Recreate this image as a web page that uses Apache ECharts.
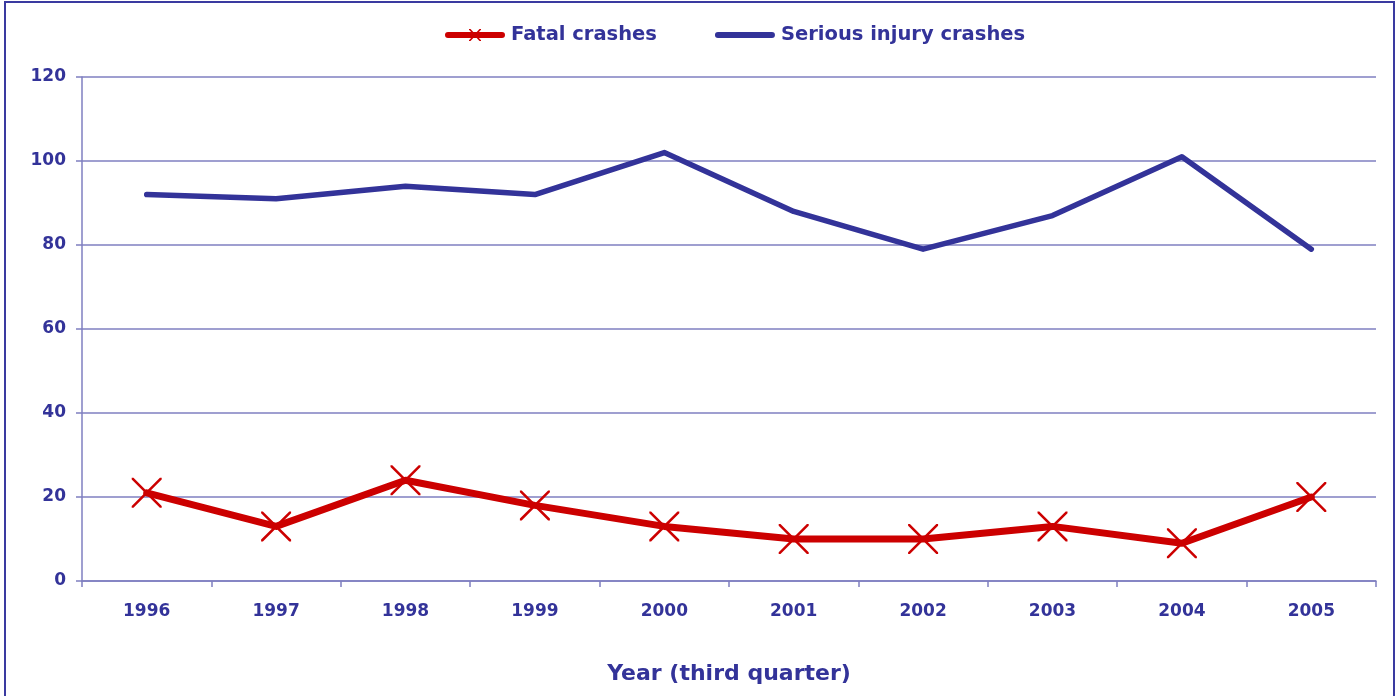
<!DOCTYPE html>
<html>
<head>
<meta charset="utf-8">
<script src="https://cdn.jsdelivr.net/npm/echarts@6/dist/echarts.min.js"></script>
<style>
html,body{margin:0;padding:0;background:#fff;}
#chart{width:1398px;height:696px;}
</style>
</head>
<body>
<div id="chart"></div>
<script>
const years = ['1996','1997','1998','1999','2000','2001','2002','2003','2004','2005'];
const fatalCrashes = [21, 13, 24, 18, 13, 10, 10, 13, 9, 20];
const seriousInjuryCrashes = [92, 91, 94, 92, 102, 88, 79, 87, 101, 79];
const yTicks = [0, 20, 40, 60, 80, 100, 120];

const textColor = '#333399';
const gridColor = '#7f7fc0';
const fontFam = 'DejaVu Sans';
const crossPath = 'path://M0,0 L1.8,0 L30,28.2 L30,30 L28.2,30 L0,1.8 Z M28.2,0 L30,0 L30,1.8 L1.8,30 L0,30 L0,28.2 Z';
// legend icons: 60x14 box, thick bar with rounded ends
const barPath = 'M3,4 L57,4 A3,3 0 0 1 57,10 L3,10 A3,3 0 0 1 3,4 Z';
const legendFatalIcon = 'path://' + barPath +
  ' M24,1 L25.5,1 L36,12.2 L36,13 L34.5,13 L24,1.8 Z M34.5,1 L36,1 L36,1.8 L25.5,13 L24,13 L24,12.2 Z' +
  ' M0,0 L0.01,0 L0,0.01 Z M60,14 L59.99,14 L60,13.99 Z';
const legendSeriousIcon = 'path://' + barPath +
  ' M0,0 L0.01,0 L0,0.01 Z M60,14 L59.99,14 L60,13.99 Z';

const chart = echarts.init(document.getElementById('chart'), null, {renderer: 'canvas'});
chart.setOption({
  animation: false,
  backgroundColor: '#ffffff',
  graphic: [{
    type: 'rect',
    shape: {x: 5, y: 2, width: 1389, height: 760},
    style: {fill: 'none', stroke: '#3a3aa0', lineWidth: 2},
    silent: true,
    z: 100
  }],
  legend: {
    top: 20,
    left: 440,
    itemWidth: 62,
    itemHeight: 14,
    itemGap: 58,
    textStyle: {color: textColor, fontFamily: fontFam, fontWeight: 'bold', fontSize: 19.5},
    data: [
      {name: 'Fatal crashes', icon: legendFatalIcon, itemStyle: {color: '#cc0000'}},
      {name: 'Serious injury crashes', icon: legendSeriousIcon, itemStyle: {color: '#333399'}}
    ]
  },
  grid: {left: 82, right: 22, top: 77, bottom: 115, containLabel: false},
  xAxis: {
    type: 'category',
    data: years,
    boundaryGap: true,
    name: 'Year (third quarter)',
    nameLocation: 'middle',
    nameGap: 82,
    nameTextStyle: {color: textColor, fontFamily: fontFam, fontWeight: 'bold', fontSize: 22},
    axisLine: {lineStyle: {color: gridColor, width: 1.5}},
    axisTick: {show: true, alignWithLabel: false, length: 6, lineStyle: {color: gridColor, width: 1.5}},
    axisLabel: {color: textColor, fontFamily: fontFam, fontWeight: 'bold', fontSize: 17, margin: 22},
    splitLine: {show: false}
  },
  yAxis: {
    type: 'value',
    min: yTicks[0],
    max: yTicks[yTicks.length - 1],
    interval: yTicks[1] - yTicks[0],
    axisLine: {show: true, lineStyle: {color: gridColor, width: 1.5}},
    axisTick: {show: true, length: 6, lineStyle: {color: gridColor, width: 1.5}},
    axisLabel: {color: textColor, fontFamily: fontFam, fontWeight: 'bold', fontSize: 17, margin: 16},
    splitLine: {show: true, lineStyle: {color: gridColor, width: 1.5}}
  },
  series: [
    {
      name: 'Fatal crashes',
      type: 'line',
      data: fatalCrashes,
      symbol: crossPath,
      symbolSize: 30,
      showAllSymbol: true,
      lineStyle: {color: '#cc0000', width: 7, cap: 'round', join: 'round'},
      itemStyle: {color: '#cc0000', borderWidth: 0},
      z: 3
    },
    {
      name: 'Serious injury crashes',
      type: 'line',
      data: seriousInjuryCrashes,
      symbol: 'none',
      lineStyle: {color: '#333399', width: 5.5, cap: 'round', join: 'round'},
      itemStyle: {color: '#333399'},
      z: 2
    }
  ]
});
</script>
</body>
</html>
